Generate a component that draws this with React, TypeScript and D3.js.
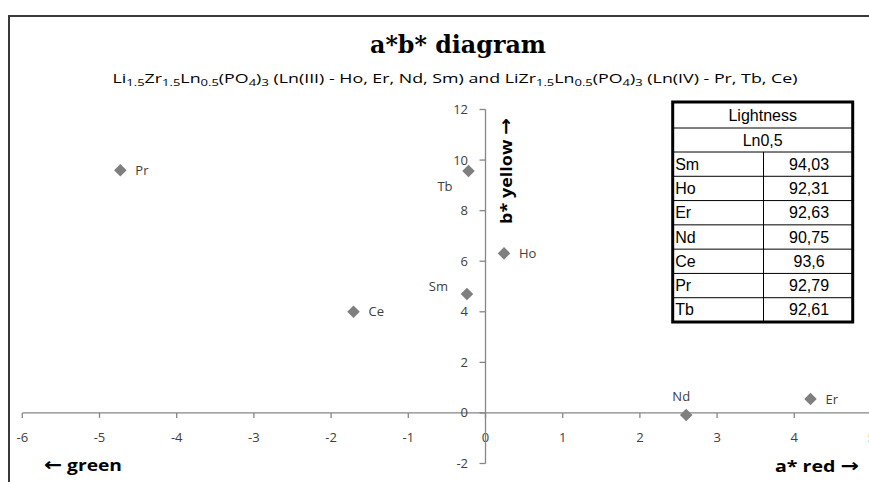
import React from "react";
import * as d3 from "d3";

const pointNames = ["Pr", "Tb", "Ho", "Sm", "Ce", "Nd", "Er"];
const aValues = [-4.73, -0.22, 0.24, -0.24, -1.71, 2.6, 4.21];
const bValues = [9.6, 9.57, 6.31, 4.7, 4.0, -0.08, 0.55];
const labelPlacement = ["right", "belowLeft", "right", "aboveLeft", "right", "above", "right"];

const xTicks = [-6, -5, -4, -3, -2, -1, 0, 1, 2, 3, 4, 5];
const yTicks = [-2, 0, 2, 4, 6, 8, 10, 12];

const tableTitle = "Lightness";
const tableSubtitle = "Ln0,5";
const tableNames = ["Sm", "Ho", "Er", "Nd", "Ce", "Pr", "Tb"];
const tableValues = ["94,03", "92,31", "92,63", "90,75", "93,6", "92,79", "92,61"];

const W = 869;
const H = 482;
const SANS = "'Open Sans', 'Noto Sans', sans-serif";
const ARROW = "'DejaVu Sans', sans-serif";

export default function App() {
  const x = d3.scaleLinear().domain([-6, 5]).range([22.3, 871.5]);
  const y = d3.scaleLinear().domain([-2, 12]).range([463.5, 109.5]);
  const axisColor = "#868686";
  const x0 = x(0);
  const y0 = y(0);

  const diamond = d3.symbol().type(d3.symbolDiamond2).size(100)();

  const labelOffset: Record<string, [number, number, string]> = {
    right: [15, 4.5, "start"],
    belowLeft: [-16, 20, "end"],
    aboveLeft: [-19, -3, "end"],
    above: [-5, -14, "middle"],
  };

  // table geometry
  const tL = 672.7, tR = 852.7, tT = 102, tMid = 763.5;
  const rowEdges = [tT, 128, 152];
  const rowH = (322 - 152) / tableNames.length;
  tableNames.forEach((_, i) => rowEdges.push(152 + rowH * (i + 1)));
  const tB = rowEdges[rowEdges.length - 1];

  const sub = (t: string) => (
    <tspan baselineShift="-3" fontSize="9.5">{t}</tspan>
  );

  return (
    <svg width={W} height={H} style={{ position: "absolute", left: 0, top: 0 }}>
      <rect x={0} y={0} width={W} height={H} fill="#fff" />
      <path d={`M9,${H} V16 H${W}`} fill="none" stroke="#3a3a3a" strokeWidth={2} />

      <text x={458} y={53} textAnchor="middle" style={{ fontFamily: "'DejaVu Serif', serif" }}
        fontWeight="bold" fontSize={24} fill="#000" textLength={176} lengthAdjust="spacingAndGlyphs">a*b* diagram</text>

      <text x={455} y={83} textAnchor="middle" fontFamily={SANS} fontSize={13} fill="#000"
        textLength={685} lengthAdjust="spacingAndGlyphs">
        Li{sub("1.5")}<tspan baselineShift="0">Zr</tspan>{sub("1.5")}<tspan>Ln</tspan>{sub("0.5")}<tspan>(PO</tspan>{sub("4")}<tspan>)</tspan>{sub("3")}<tspan> (Ln(III) - Ho, Er, Nd, Sm) and LiZr</tspan>{sub("1.5")}<tspan>Ln</tspan>{sub("0.5")}<tspan>(PO</tspan>{sub("4")}<tspan>)</tspan>{sub("3")}<tspan> (Ln(IV) - Pr, Tb, Ce)</tspan>
      </text>

      {/* x axis */}
      <line x1={x(-6)} x2={W} y1={y0} y2={y0} stroke={axisColor} strokeWidth={1.3} />
      {xTicks.map((t) => (
        <g key={"xt" + t}>
          <line x1={x(t)} x2={x(t)} y1={y0} y2={y0 + 5} stroke={axisColor} strokeWidth={1.3} />
          <text x={x(t)} y={y0 + 29} textAnchor="middle" fontFamily={SANS} fontSize={13} fill="#404040">{t}</text>
        </g>
      ))}
      {/* y axis */}
      <line x1={x0} x2={x0} y1={y(-2)} y2={y(12)} stroke={axisColor} strokeWidth={1.3} />
      {yTicks.map((t) => (
        <g key={"yt" + t}>
          <line x1={x0 - 6} x2={x0} y1={y(t)} y2={y(t)} stroke={axisColor} strokeWidth={1.3} />
          <text x={468} y={y(t) + 4.5} textAnchor="end" fontFamily={SANS} fontSize={13} fill="#404040">{t}</text>
        </g>
      ))}

      {/* axis titles */}
      <text transform={`translate(512,171) rotate(-90)`} textAnchor="middle" fontFamily={SANS}
        fontWeight="bold" fontSize={16} fill="#000" textLength={106} lengthAdjust="spacingAndGlyphs">b* yellow <tspan fontFamily={ARROW} fontSize={18}>→</tspan></text>
      <text x={44} y={471} fontFamily={SANS} fontWeight="bold" fontSize={16} fill="#000" textLength={78} lengthAdjust="spacingAndGlyphs"><tspan fontFamily={ARROW} fontSize={18}>←</tspan> green</text>
      <text x={775} y={472} fontFamily={SANS} fontWeight="bold" fontSize={16} fill="#000" textLength={84} lengthAdjust="spacingAndGlyphs">a* red <tspan fontFamily={ARROW} fontSize={18}>→</tspan></text>

      {/* points */}
      {pointNames.map((n, i) => {
        const px = x(aValues[i]);
        const py = y(bValues[i]);
        const [dx, dy, anchor] = labelOffset[labelPlacement[i]];
        return (
          <g key={n}>
            <path d={diamond} transform={`translate(${px},${py})`} fill="#7f7f7f" />
            <text x={px + dx} y={py + dy} textAnchor={anchor} fontFamily={SANS} fontSize={13} fill="#404040">{n}</text>
          </g>
        );
      })}

      {/* table */}
      <rect x={tL} y={tT} width={tR - tL} height={tB - tT} fill="#fff" />
      {rowEdges.slice(1, -1).map((e, i) => (
        <line key={"re" + i} x1={tL} x2={tR} y1={e} y2={e} stroke="#000" strokeWidth={1} />
      ))}
      <line x1={tMid} x2={tMid} y1={rowEdges[2]} y2={tB} stroke="#000" strokeWidth={1} />
      <rect x={tL} y={tT} width={tR - tL} height={tB - tT} fill="none" stroke="#000" strokeWidth={3} />
      <text x={(tL + tR) / 2} y={(rowEdges[0] + rowEdges[1]) / 2 + 5.5} textAnchor="middle"
        fontFamily="'Liberation Sans', Arial, sans-serif" fontSize={16} fill="#000">{tableTitle}</text>
      <text x={(tL + tR) / 2} y={(rowEdges[1] + rowEdges[2]) / 2 + 5.5} textAnchor="middle"
        fontFamily="'Liberation Sans', Arial, sans-serif" fontSize={16} fill="#000">{tableSubtitle}</text>
      {tableNames.map((n, i) => {
        const cy = (rowEdges[i + 2] + rowEdges[i + 3]) / 2 + 5.5;
        return (
          <g key={"tr" + n}>
            <text x={tL + 2.5} y={cy} fontFamily="'Liberation Sans', Arial, sans-serif" fontSize={16} fill="#000">{n}</text>
            <text x={(tMid + tR) / 2 + 1} y={cy} textAnchor="middle" fontFamily="'Liberation Sans', Arial, sans-serif" fontSize={16} fill="#000">{tableValues[i]}</text>
          </g>
        );
      })}
    </svg>
  );
}
